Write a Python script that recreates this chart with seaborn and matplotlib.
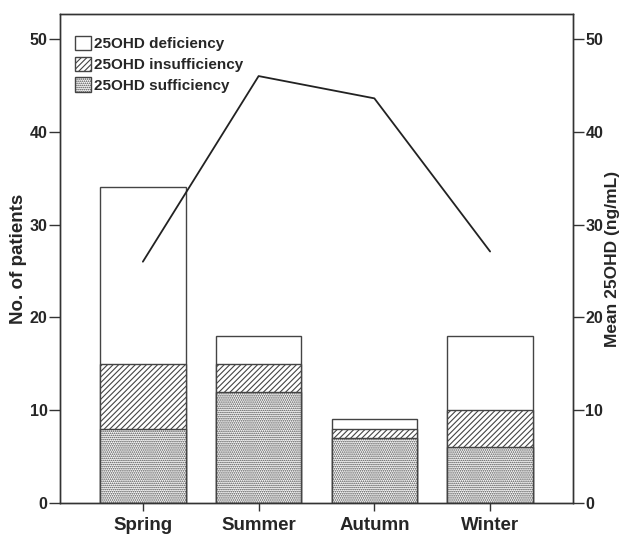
import numpy as np
import pandas as pd
import matplotlib
matplotlib.use("Agg")
import matplotlib.pyplot as plt
import seaborn as sns
from matplotlib.patches import Patch

seasons = ["Spring", "Summer", "Autumn", "Winter"]
sufficiency = [8, 12, 7, 6]
insufficiency = [7, 3, 1, 4]
deficiency = [19, 3, 1, 8]
mean_25ohd = [26.0, 46.0, 43.6, 27.1]

sns.set_style("white")
plt.rcParams["font.family"] = ["Liberation Sans", "DejaVu Sans"]
plt.rcParams["font.weight"] = "bold"
plt.rcParams["hatch.linewidth"] = 0.8
plt.rcParams["hatch.color"] = "#333333"

df = pd.DataFrame({"season": seasons,
                   "suff": sufficiency,
                   "insuff": np.array(sufficiency) + np.array(insufficiency),
                   "total": np.array(sufficiency) + np.array(insufficiency) + np.array(deficiency)})

fig = plt.figure(figsize=(6.23, 5.34), dpi=100)
ax = fig.add_axes([0.0963, 0.058, 0.8234, 0.916])

edge = "#444444"
layers = [("total", ""), ("insuff", "//////"), ("suff", "........")]
for col, hatch in layers:
    sns.barplot(data=df, x="season", y=col, color="white", edgecolor=edge,
                linewidth=1.0, width=0.74, ax=ax, saturation=1)
    for p in ax.patches[-4:]:
        p.set_hatch(hatch)
        p.set_facecolor("white")

ax.set_xlim(-0.716, 3.716)
ax.set_ylim(0, 52.7)
ax.set_yticks([0, 10, 20, 30, 40, 50])
ax.set_xlabel("")
ax.set_ylabel("No. of patients", fontsize=13.5, fontweight="bold", labelpad=2)
ax.tick_params(axis="y", direction="out", length=8, width=1, color="#333333",
               labelsize=11.5, pad=1, left=True)
ax.tick_params(axis="x", direction="out", length=6, width=1, color="#333333",
               labelsize=13.5, pad=4, bottom=True)
for s in ax.spines.values():
    s.set_color("#333333")
    s.set_linewidth(1.0)

ax2 = ax.twinx()
sns.lineplot(x=[0, 1, 2, 3], y=mean_25ohd, color="#222222", linewidth=1.3, ax=ax2)
ax2.set_ylim(0, 52.7)
ax2.set_yticks([0, 10, 20, 30, 40, 50])
ax2.set_ylabel("Mean 25OHD (ng/mL)", fontsize=12.5, fontweight="bold", labelpad=1)
ax2.tick_params(axis="y", direction="out", length=8, width=1, color="#333333",
                labelsize=11.5, pad=1, right=True)
for s in ax2.spines.values():
    s.set_color("#333333")
    s.set_linewidth(1.0)

handles = [Patch(facecolor="white", edgecolor=edge, label="25OHD deficiency"),
           Patch(facecolor="white", edgecolor=edge, hatch="//////", label="25OHD insufficiency"),
           Patch(facecolor="white", edgecolor=edge, hatch="........", label="25OHD sufficiency")]
ax.legend(handles=handles, loc="upper left", frameon=False, fontsize=11,
          handlelength=1.05, handleheight=1.05, handletextpad=0.2, labelspacing=0.36,
          borderaxespad=0, borderpad=0, bbox_to_anchor=(0.029, 0.955))

fig.savefig("out.png", dpi=100)
